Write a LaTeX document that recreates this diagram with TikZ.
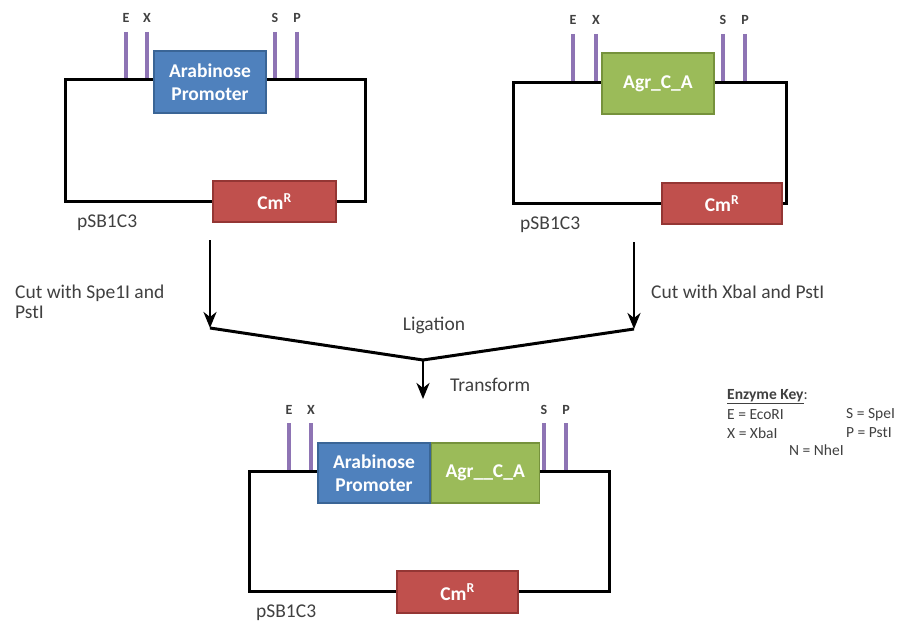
\documentclass[tikz,border=0pt]{standalone}
\usepackage{fontspec}
\setmainfont{Carlito}
\usetikzlibrary{arrows.meta}

\definecolor{promblue}{HTML}{4F81BD}
\definecolor{promblueedge}{HTML}{3A6596}
\definecolor{genegreen}{HTML}{9BBB59}
\definecolor{genegreenedge}{HTML}{76923C}
\definecolor{cmred}{HTML}{C0504D}
\definecolor{cmrededge}{HTML}{943634}
\definecolor{sitepurple}{HTML}{8E74B4}
\definecolor{txtgray}{HTML}{404040}

\tikzset{
  wire/.style={line width=3pt, black, line join=miter},
  site/.style={line width=3.8pt, sitepurple},
  sitelabel/.style={font=\fontsize{14}{15}\selectfont\bfseries, text=txtgray, inner sep=0pt},
  part/.style={draw, line width=1.2pt, text=white, align=center, inner sep=0pt,
               font=\fontsize{19.5}{23}\selectfont\bfseries},
  promoter/.style={part, fill=promblue, draw=promblueedge},
  gene/.style={part, fill=genegreen, draw=genegreenedge},
  marker/.style={part, fill=cmred, draw=cmrededge},
  plain/.style={font=\fontsize{19.5}{20}\selectfont, text=txtgray, inner sep=0pt},
  keytext/.style={font=\fontsize{15.5}{17}\selectfont, text=txtgray, inner sep=0pt, anchor=west},
  flow/.style={line width=2.6pt, -{Stealth[length=16pt,width=13pt,inset=5pt]}},
  vee/.style={line width=3pt, line join=miter},
}

\begin{document}
\begin{tikzpicture}[x=1pt,y=-1pt]
\useasboundingbox (0,0) rectangle (912,623);

% ---------- plasmid 1: Arabinose promoter in pSB1C3 ----------
\coordinate (a1) at (65,80);  \coordinate (a2) at (365,80);
\coordinate (a3) at (365,201); \coordinate (a4) at (65,201);
\foreach \n/\x in {E/126,X/147,S/275,P/297}{
  \coordinate (aT\n) at (\x,32); \coordinate (aB\n) at (\x,80);
  \draw[site] (aT\n) -- (aB\n);
  \node[sitelabel] (aL\n) at (\x,18) {\n};
}
\draw[wire] (a1) -- (a2) -- (a3) -- (a4) -- cycle;
\node[promoter, minimum width=112pt, minimum height=62pt] (aprom) at (210,82) {Arabinose\\Promoter};
\node[marker, minimum width=123pt, minimum height=41pt] (acm) at (274.5,201.5) {Cm\textsuperscript{R}};
\node[plain, anchor=west] (aname) at (77,223) {pSB1C3};

% ---------- plasmid 2: Agr_C_A in pSB1C3 ----------
\coordinate (b1) at (513,83);  \coordinate (b2) at (786,83);
\coordinate (b3) at (786,203); \coordinate (b4) at (513,203);
\foreach \n/\x in {E/573,X/596,S/723,P/745}{
  \coordinate (bT\n) at (\x,34); \coordinate (bB\n) at (\x,83);
  \draw[site] (bT\n) -- (bB\n);
  \node[sitelabel] (bL\n) at (\x,20) {\n};
}
\draw[wire] (b1) -- (b2) -- (b3) -- (b4) -- cycle;
\node[gene, minimum width=112pt, minimum height=61pt] (bgene) at (658,83.5) {Agr\_C\_A};
\node[marker, minimum width=120pt, minimum height=41pt] (bcm) at (722,203.5) {Cm\textsuperscript{R}};
\node[plain, anchor=west] (bname) at (520,225) {pSB1C3};

% ---------- cutting, ligation and transformation ----------
\coordinate (lsrc) at (210,240); \coordinate (ltip) at (210,328);
\coordinate (rsrc) at (634,242); \coordinate (rtip) at (634,329);
\coordinate (vbot) at (423,360); \coordinate (ttip) at (423,399);
\draw[flow] (lsrc) -- (ltip);
\draw[flow] (rsrc) -- (rtip);
\draw[vee] (ltip) -- (vbot) -- (rtip);
\draw[flow] (vbot) -- (ttip);
\node[plain, anchor=west, align=left] (lcut) at (15,302) {Cut with Spe1I and\\PstI};
\node[plain, anchor=west] (rcut) at (651,292) {Cut with XbaI and PstI};
\node[plain] (lig) at (434,325) {Ligation};
\node[plain, anchor=west] (trans) at (450,385) {Transform};

% ---------- plasmid 3: composite part in pSB1C3 ----------
\coordinate (c1) at (249,471);  \coordinate (c2) at (609,471);
\coordinate (c3) at (609,591); \coordinate (c4) at (249,591);
\foreach \n/\x in {E/289,X/311,S/544,P/566}{
  \coordinate (cT\n) at (\x,423); \coordinate (cB\n) at (\x,471);
  \draw[site] (cT\n) -- (cB\n);
  \node[sitelabel] (cL\n) at (\x,410) {\n};
}
\draw[wire] (c1) -- (c2) -- (c3) -- (c4) -- cycle;
\node[promoter, minimum width=112pt, minimum height=60pt] (cprom) at (374,473) {Arabinose\\Promoter};
\node[gene, minimum width=108pt, minimum height=60pt, anchor=west] (cgene) at (cprom.east) {Agr\_\_C\_A};
\node[marker, minimum width=121pt, minimum height=42pt] (ccm) at (457.5,592) {Cm\textsuperscript{R}};
\node[plain, anchor=west] (cname) at (256,613) {pSB1C3};

% ---------- enzyme key ----------
\node[keytext] (keyhead) at (727,397) {\underline{\textbf{Enzyme Key}}:};
\node[keytext] (keyE) at (727,415) {E = EcoRI};
\node[keytext] (keyS) at (846,415) {S = SpeI};
\node[keytext] (keyX) at (727,433) {X = XbaI};
\node[keytext] (keyP) at (846,433) {P = PstI};
\node[keytext] (keyN) at (789,450) {N = NheI};
\end{tikzpicture}
\end{document}
